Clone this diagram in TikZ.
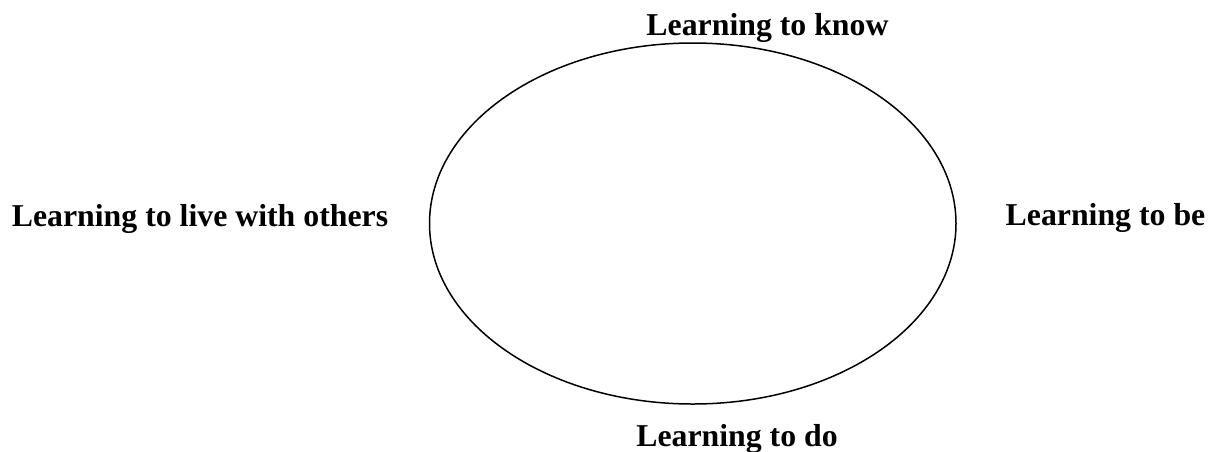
\documentclass[tikz,border=0pt]{standalone}
\usepackage{fontspec}
\usetikzlibrary{shapes.geometric}
\setmainfont{Liberation Serif}
\begin{document}
\begin{tikzpicture}[x=1pt,y=-1pt,
  label text/.style={anchor=base,inner sep=0pt,font=\fontsize{31.8}{38}\selectfont\bfseries},
  ring/.style={ellipse,draw=black,line width=1.5pt,inner sep=0pt,
    minimum width=526.5pt,minimum height=361pt}]
\useasboundingbox (0,0) rectangle (1224,451);
% central ellipse
\node[ring] (ring) at (692.75,223.5) {};
% the four pillars around it
\node[label text] (know)   at (767.5,35)   {Learning to know};
\node[label text] (live)   at (200,226)    {Learning to live with others};
\node[label text] (be)     at (1105.5,225) {Learning to be};
\node[label text] (do)     at (737,446)    {Learning to do};
\end{tikzpicture}
\end{document}
